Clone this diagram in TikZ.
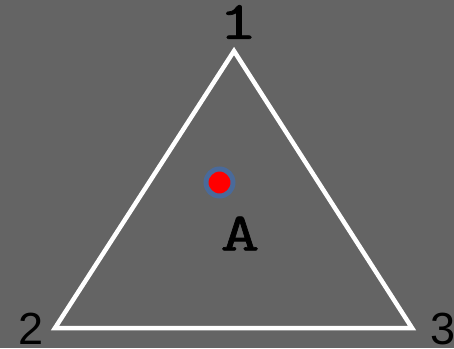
\documentclass[tikz,border=0pt]{standalone}
\usepackage{fontspec}
\newfontfamily\helvfont{Liberation Sans}
\newfontfamily\slabfont[FakeStretch=1.4, FakeBold=1.3]{Latin Modern Mono}
\definecolor{bgGray}{HTML}{646464}
\definecolor{ringBlue}{HTML}{4A6A9A}
\definecolor{dotRed}{HTML}{FF0000}
\usetikzlibrary{positioning}

\begin{document}
\begin{tikzpicture}[x=1pt, y=-1pt,
  edge/.style={draw=white, line width=4.5pt, line join=miter},
  numlbl/.style={font=\fontsize{54}{54}\selectfont\slabfont, text=black, inner sep=0pt},
  sidelbl/.style={font=\fontsize{45}{45}\selectfont\helvfont, text=black, inner sep=0pt},
  centre/.style={circle, fill=dotRed, draw=ringBlue, line width=5pt,
                 minimum size=27pt, inner sep=0pt}
]
\fill[bgGray] (0,0) rectangle (454,348);
\useasboundingbox (0,0) rectangle (454,348);
\coordinate (v1) at (234,51);
\coordinate (v2) at (55,328);
\coordinate (v3) at (412,328);
\draw[edge] (v1) -- (v2) -- (v3) -- cycle;
\node[numlbl] (l1) at (238,22) {1};
\node[sidelbl] (l2) at (31,329) {2};
\node[sidelbl] (l3) at (443,329) {3};
\node[numlbl] (lA) at (240,233.5) {A};
\node[centre] (dot) at (219.5,182.5) {};
\end{tikzpicture}
\end{document}
